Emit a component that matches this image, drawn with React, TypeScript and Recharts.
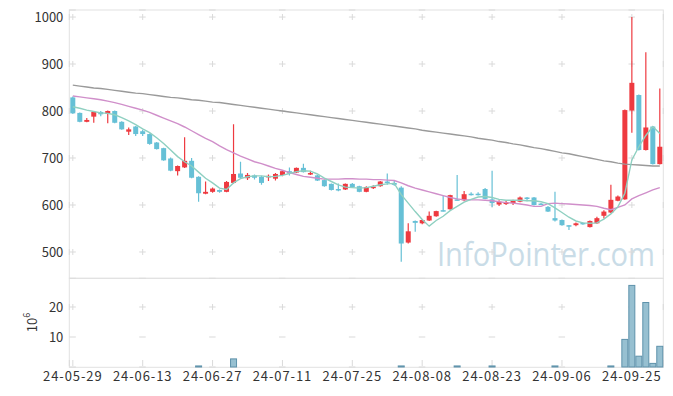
import { ComposedChart, Bar, Line, XAxis, YAxis, CartesianGrid } from 'recharts';

const DATES = [
  '24-05-29', '24-05-30', '24-05-31', '24-06-03', '24-06-04', '24-06-05', '24-06-07', '24-06-10', '24-06-11', '24-06-12',
  '24-06-13', '24-06-14', '24-06-17', '24-06-18', '24-06-19', '24-06-20', '24-06-21', '24-06-24', '24-06-25', '24-06-26',
  '24-06-27', '24-06-28', '24-07-01', '24-07-02', '24-07-03', '24-07-04', '24-07-05', '24-07-08', '24-07-09', '24-07-10',
  '24-07-11', '24-07-12', '24-07-15', '24-07-16', '24-07-17', '24-07-18', '24-07-19', '24-07-22', '24-07-23', '24-07-24',
  '24-07-25', '24-07-26', '24-07-29', '24-07-30', '24-07-31', '24-08-01', '24-08-02', '24-08-05', '24-08-06', '24-08-07',
  '24-08-08', '24-08-09', '24-08-12', '24-08-13', '24-08-14', '24-08-16', '24-08-19', '24-08-20', '24-08-21', '24-08-22',
  '24-08-23', '24-08-26', '24-08-27', '24-08-28', '24-08-29', '24-08-30', '24-09-02', '24-09-03', '24-09-04', '24-09-05',
  '24-09-06', '24-09-09', '24-09-10', '24-09-11', '24-09-12', '24-09-13', '24-09-19', '24-09-20', '24-09-23', '24-09-24',
  '24-09-25', '24-09-26', '24-09-27', '24-09-30', '24-10-02',
];

const OPEN = [
  829, 796, 777, 788, 798, 794, 800, 777, 756, 767,
  757, 751, 733, 721, 699, 672, 680, 694, 660, 624,
  628, 632, 628, 647, 667, 657, 663, 660, 659, 656,
  664, 672, 669, 679, 666, 663, 653, 645, 634, 633,
  645, 640, 628, 637, 640, 650, 647, 637, 520, 566,
  561, 567, 576, 589, 591, 612, 610, 624, 624, 634,
  612, 601, 602, 604, 607, 616, 616, 603, 596, 572,
  568, 557, 557, 562, 553, 561, 577, 584, 609, 612,
  801, 834, 717, 767, 687,
];
const HIGH = [
  831, 797, 785, 799, 800, 801, 801, 778, 765, 768,
  760, 752, 734, 722, 701, 684, 744, 700, 661, 650,
  637, 633, 651, 772, 692, 668, 665, 662, 665, 668,
  674, 680, 680, 688, 673, 664, 654, 646, 646, 646,
  647, 641, 640, 642, 651, 667, 652, 640, 561, 567,
  569, 586, 588, 619, 622, 664, 630, 627, 627, 636,
  673, 610, 609, 611, 618, 617, 617, 604, 598, 628,
  569, 557, 563, 563, 567, 575, 589, 643, 620, 803,
  1000, 835, 925, 768, 848,
];
const LOW = [
  794, 776, 776, 775, 789, 774, 774, 760, 749, 747,
  747, 728, 718, 694, 672, 663, 679, 657, 607, 623,
  626, 626, 627, 645, 657, 653, 654, 643, 651, 652,
  661, 663, 668, 669, 664, 651, 639, 631, 629, 632,
  637, 627, 627, 634, 639, 643, 641, 479, 518, 543,
  559, 566, 575, 586, 590, 609, 608, 620, 620, 612,
  596, 598, 600, 600, 606, 608, 599, 600, 585, 565,
  556, 547, 555, 558, 552, 560, 571, 583, 608, 611,
  754, 716, 716, 686, 686,
];
const CLOSE = [
  795, 777, 781, 798, 793, 800, 775, 761, 761, 751,
  751, 730, 719, 695, 673, 683, 694, 658, 625, 628,
  635, 628, 649, 666, 658, 664, 658, 647, 662, 666,
  672, 667, 679, 670, 668, 652, 640, 632, 633, 645,
  638, 628, 638, 639, 650, 647, 643, 518, 544, 562,
  568, 577, 587, 587, 621, 610, 623, 622, 622, 613,
  604, 607, 606, 609, 616, 613, 600, 601, 586, 567,
  557, 555, 561, 560, 566, 572, 586, 611, 618, 802,
  860, 717, 765, 687, 724,
];

const MA5 = [
  809, 806, 802, 799, 796, 795, 792, 786, 779, 771,
  762, 754, 743, 731, 717, 703, 692, 683, 670, 657,
  647, 636, 633, 647, 656, 660, 662, 662, 660, 661,
  663, 667, 671, 673, 672, 666, 657, 650, 643, 638,
  637, 636, 637, 640, 643, 645, 646, 622, 604, 586,
  569, 555, 567, 576, 588, 597, 606, 612, 617, 618,
  616, 612, 610, 610, 610, 609, 609, 607, 603, 594,
  584, 574, 566, 562, 561, 562, 570, 581, 596, 625,
  696, 724, 748, 767, 752,
];
const MA20 = [
  832, 830, 828, 826, 824, 821, 818, 814, 810, 806,
  802, 797, 791, 785, 779, 773, 766, 758, 750, 742,
  735, 726, 718, 711, 704, 698, 692, 688, 683, 678,
  674, 669, 665, 661, 659, 657, 655, 655, 655, 656,
  656, 655, 655, 654, 654, 653, 652, 647, 641, 636,
  632, 628, 624, 620, 616, 613, 611, 611, 611, 610,
  609, 607, 605, 604, 602, 600, 597, 597, 603, 604,
  603, 602, 601, 600, 599, 597, 593, 590, 595, 600,
  613, 620, 626, 632, 637,
];
const MA120 = [
  855, 853, 851, 849, 848, 846, 844, 842, 840, 838,
  837, 835, 833, 831, 829, 828, 826, 824, 823, 821,
  819, 818, 816, 814, 812, 810, 808, 806, 804, 802,
  800, 798, 796, 794, 792, 790, 788, 786, 784, 782,
  780, 778, 776, 774, 772, 770, 768, 766, 764, 762,
  759, 757, 755, 753, 751, 749, 747, 745, 742, 740,
  738, 735, 733, 730, 728, 725, 722, 720, 717, 714,
  711, 709, 706, 703, 700, 697, 694, 692, 689, 687,
  686, 685, 684, 683, 683,
];

// volume, millions of shares
const VOLUME = [
  0.12, 0.08, 0.06, 0.07, 0.05, 0.06, 0.08, 0.07, 0.06, 0.09,
  0.1, 0.12, 0.08, 0.11, 0.14, 0.1, 0.15, 0.12, 0.35, 0.1,
  0.08, 0.06, 0.12, 2.7, 0.15, 0.1, 0.06, 0.07, 0.05, 0.06,
  0.08, 0.05, 0.06, 0.09, 0.05, 0.06, 0.07, 0.06, 0.05, 0.06,
  0.05, 0.06, 0.05, 0.04, 0.06, 0.08, 0.07, 0.35, 0.15, 0.1,
  0.08, 0.12, 0.1, 0.15, 0.12, 0.35, 0.1, 0.06, 0.05, 0.08,
  0.35, 0.08, 0.05, 0.06, 0.07, 0.05, 0.08, 0.04, 0.07, 0.35,
  0.08, 0.06, 0.05, 0.04, 0.06, 0.07, 0.12, 0.35, 0.15, 9.2,
  27.2, 3.6, 21.5, 1.2, 6.9,
];

const TICK_DATES = ['24-05-29', '24-06-13', '24-06-27', '24-07-11', '24-07-25', '24-08-08', '24-08-23', '24-09-06', '24-09-25'];
const PRICE_TICKS = [500, 600, 700, 800, 900, 1000];
const VOL_TICKS = [10, 20];

const UP = '#ee3a40';
const DOWN = '#66c0d6';
const FONT = '"Noto Sans CJK KR", "Noto Sans", sans-serif';
const tickStyle = { fontSize: 13, fill: '#333', fontFamily: FONT };
const dateTickStyle = { ...tickStyle, letterSpacing: 0.9 };

const data = DATES.map((d, i) => ({
  date: d,
  open: OPEN[i],
  high: HIGH[i],
  low: LOW[i],
  close: CLOSE[i],
  range: [LOW[i], HIGH[i]],
  ma5: MA5[i],
  ma20: MA20[i],
  ma120: MA120[i],
  vol: VOLUME[i],
}));

function Candle(props: any) {
  const { x, y, width, height, payload } = props;
  if (!payload) return null;
  const { open, close, high, low } = payload;
  const top = Math.min(y, y + height);
  const h = Math.abs(height);
  const toY = (v: number) => top + ((high - v) / (high - low || 1)) * h;
  const cx = x + width / 2;
  const color = close >= open ? UP : DOWN;
  const bTop = toY(Math.max(open, close));
  const bBot = toY(Math.min(open, close));
  return (
    <g>
      <line x1={cx} x2={cx} y1={top} y2={top + h} stroke={color} strokeWidth={1.2} />
      <rect x={cx - 2.5} y={bTop} width={5} height={Math.max(bBot - bTop, 1.5)} fill={color} />
    </g>
  );
}

function VolBar(props: any) {
  const { x, y, width, height } = props;
  const h = Math.abs(height);
  if (h < 0.6) return null;
  return <rect x={x + 0.5} y={Math.min(y, y + height)} width={width - 1} height={h}
    fill="#97c0d1" stroke="#5e92ab" strokeWidth={1} />;
}

const VolLabel = ({ viewBox }: any) => {
  const cx = 31;
  const cy = viewBox.y + viewBox.height / 2;
  return (
    <text x={cx} y={cy} transform={`rotate(-90 ${cx} ${cy})`} textAnchor="middle" dominantBaseline="central"
      fontSize={13} fill="#333" fontFamily={FONT}>
      10<tspan dy={-5} fontSize={9}>6</tspan>
    </text>
  );
};

export default function App() {
  const left = 69.3;
  const right = 663.3;
  return (
    <div style={{ position: 'absolute', left: 0, top: 0, width: 673, height: 396, background: '#fff', fontFamily: FONT }}>
      <svg width={673} height={396} style={{ position: 'absolute', left: 0, top: 0 }}>
        <text x={437} y={266} fontSize={33} fill="#c9dce7" textLength={218} lengthAdjust="spacingAndGlyphs"
          fontFamily='"Open Sans", sans-serif'>InfoPointer.com</text>
        <rect x={left} y={10} width={right - left} height={268.3} fill="none" stroke="#e2e2e2" />
        <rect x={left} y={278.3} width={right - left} height={89} fill="none" stroke="#e2e2e2" />
      </svg>

      <div style={{ position: 'absolute', left: 0, top: 0 }}>
        <ComposedChart width={673} height={278.3} data={data} barCategoryGap={0}
          margin={{ top: 10, right: 9.7, bottom: 0, left: 0 }}>
          <CartesianGrid stroke="#dadada" horizontal={false} strokeDasharray="0 4 6 37" />
          <CartesianGrid stroke="#dadada" vertical={false} strokeDasharray="6.5 63.4" />
          <XAxis dataKey="date" hide ticks={TICK_DATES} interval={0} />
          <YAxis domain={[444, 1015]} ticks={PRICE_TICKS} width={left} axisLine={false} tickLine={false}
            tickSize={0} tickMargin={6} tick={tickStyle} allowDataOverflow />
          <Bar dataKey="range" shape={<Candle />} isAnimationActive={false} />
          <Line dataKey="ma120" stroke="#9a9a9a" strokeWidth={1.4} dot={false} activeDot={false} isAnimationActive={false} />
          <Line dataKey="ma20" stroke="#d08fca" strokeWidth={1.4} dot={false} activeDot={false} isAnimationActive={false} />
          <Line dataKey="ma5" stroke="#8fd0c1" strokeWidth={1.4} dot={false} activeDot={false} isAnimationActive={false} />
        </ComposedChart>
      </div>

      <div style={{ position: 'absolute', left: 0, top: 278.3 }}>
        <ComposedChart width={673} height={117.7} data={data} barCategoryGap={0}
          margin={{ top: 0, right: 9.7, bottom: 0, left: 0 }}>
          <CartesianGrid stroke="#dadada" horizontal={false} strokeDasharray="0 26 6 24" />
          <CartesianGrid stroke="#dadada" vertical={false} strokeDasharray="6.5 63.4" />
          <XAxis dataKey="date" ticks={TICK_DATES} interval={0} height={28.7} axisLine={false} tickLine={false}
            tickSize={0} tickMargin={5} tick={dateTickStyle} />
          <YAxis domain={[0, 29.67]} ticks={VOL_TICKS} width={left} axisLine={false} tickLine={false}
            tickSize={0} tickMargin={6} tick={tickStyle} label={<VolLabel />} />
          <Bar dataKey="vol" shape={<VolBar />} isAnimationActive={false} />
        </ComposedChart>
      </div>
    </div>
  );
}
